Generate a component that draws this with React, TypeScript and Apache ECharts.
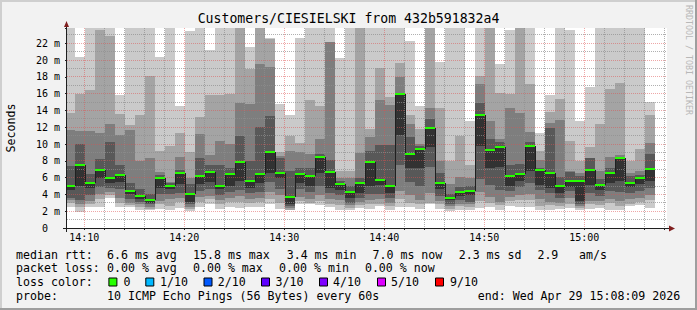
import { useEffect, useRef } from "react";
import * as echarts from "echarts";

const FONT = "'DejaVu Sans Mono', 'Liberation Mono', monospace";

// ---- time axis (clock times) ----
const GRAPH_START = "14:08:16";
const GRAPH_END = "15:08:16";
const FIRST_STEP_END = "14:09:04";
const STEP_MINUTES = 1;

const xTickLabels = ["14:10", "14:20", "14:30", "14:40", "14:50", "15:00"];
const yTickLabels = ["0", "2 m", "4 m", "6 m", "8 m", "10 m", "12 m", "14 m", "16 m", "18 m", "20 m", "22 m"];
const Y_MAX = 23.82; // ms

// ---- per-step sorted ping RTTs (ms), ping1 = fastest ... ping10 = slowest ----
const ping10 = [27.4, 20.4, 28.1, 26.9, 31.2, 15.8, 29.5, 26.2, 27.7, 20.4, 33.1, 14.5, 23.5, 28.8, 21.2, 26.6, 30.4, 27.9, 21.5, 32.6, 22.6, 14.8, 13.5, 22.6, 29.1, 26.3, 31.8, 20.3, 28.4, 27.2, 30.9, 25.7, 26.8, 34.5, 22.3, 14.5, 29.7, 19.8, 27.3, 25.9, 12.7, 31.4, 28.6, 19.5, 23.6, 30.2, 27.1, 11.3, 15.8, 26.4, 23.6, 12.7, 16.8, 28.3, 25.4, 29.9, 26.1, 27.6, 15.0];
const ping9 = [13.7, 16.0, 16.4, 23.6, 22.9, 13.6, 12.3, 13.5, 18.1, 9.2, 9.8, 11.35, 9.0, 13.2, 15.8, 15.8, 16.0, 25.5, 18.9, 24.6, 22.5, 9.1, 11.0, 10.1, 15.2, 14.5, 22.2, 6.8, 6.8, 25.1, 11.8, 19.1, 15.6, 19.7, 13.5, 11.8, 24.8, 14.3, 8.0, 11.0, 7.5, 18.1, 25.3, 16.1, 16.0, 24.9, 17.2, 9.2, 13.8, 15.4, 10.4, 8.0, 9.6, 12.4, 16.55, 17.3, 8.0, 9.4, 13.4];
const ping8 = [11.7, 11.55, 11.55, 11.35, 12.4, 11.1, 11.7, 8.0, 8.3, 6.7, 5.5, 8.5, 6.0, 11.2, 8.7, 10.4, 10.0, 14.9, 14.8, 19.5, 19.2, 8.6, 9.2, 9.1, 8.8, 10.6, 22.1, 6.0, 6.0, 8.9, 10.8, 15.2, 14.6, 18.0, 12.4, 10.0, 14.3, 8.0, 5.2, 6.1, 6.0, 17.2, 12.7, 10.6, 14.3, 13.7, 11.4, 8.1, 12.5, 12.9, 6.8, 6.5, 8.2, 6.8, 8.4, 8.7, 6.5, 6.8, 10.1];
const ping7 = [7.4, 10.0, 6.4, 8.2, 10.2, 7.5, 5.3, 4.6, 4.1, 6.3, 5.4, 6.9, 5.2, 8.3, 7.5, 7.5, 7.1, 11.0, 8.0, 12.0, 13.3, 8.3, 6.8, 7.1, 7.2, 8.8, 8.1, 5.6, 5.0, 6.0, 9.2, 9.9, 9.9, 16.0, 10.8, 9.8, 13.0, 6.6, 4.1, 4.9, 5.0, 14.9, 10.6, 10.2, 7.5, 7.6, 10.3, 7.1, 11.9, 6.1, 6.7, 6.2, 8.3, 5.8, 7.2, 8.5, 6.2, 6.3, 8.8];
const ping6 = [5.0, 7.5, 5.3, 6.9, 5.9, 6.3, 4.4, 3.8, 3.35, 6.0, 5.0, 6.5, 4.05, 6.2, 6.7, 5.05, 6.4, 7.9, 5.6, 6.4, 9.1, 6.55, 3.75, 6.45, 6.25, 8.4, 6.7, 5.2, 4.25, 5.3, 7.85, 5.75, 5.05, 15.9, 8.85, 9.35, 11.95, 5.3, 3.6, 4.25, 4.4, 13.4, 9.3, 9.6, 6.15, 6.45, 9.8, 6.95, 6.6, 5.0, 5.65, 5.65, 6.85, 5.15, 6.6, 8.3, 5.4, 5.9, 7.05];
const ping5 = [4.5, 5.0, 4.8, 5.9, 5.4, 5.5, 4.0, 3.5, 3.0, 4.8, 4.6, 5.2, 3.1, 5.2, 5.5, 4.6, 5.0, 5.6, 4.8, 5.3, 6.6, 5.9, 2.9, 5.3, 5.0, 6.6, 4.8, 4.5, 3.6, 4.2, 5.0, 5.1, 4.2, 11.1, 7.2, 7.2, 9.6, 4.6, 3.3, 3.8, 3.9, 9.8, 7.2, 7.3, 5.0, 5.6, 6.8, 5.1, 4.8, 4.2, 4.9, 3.2, 5.1, 4.5, 5.4, 5.6, 4.9, 5.2, 5.6];
const ping4 = [3.6, 3.3, 3.9, 4.9, 4.8, 4.6, 3.4, 3.1, 2.8, 4.0, 4.0, 4.2, 2.8, 4.4, 4.6, 3.9, 4.3, 4.5, 4.2, 4.3, 5.5, 4.7, 2.6, 4.6, 4.3, 5.0, 4.2, 3.9, 3.0, 3.6, 4.0, 4.1, 3.6, 7.5, 5.5, 5.0, 7.3, 3.8, 2.9, 3.3, 3.1, 5.8, 5.1, 4.5, 4.4, 4.9, 5.3, 4.5, 4.2, 3.6, 4.4, 2.8, 4.2, 3.8, 4.4, 4.3, 4.2, 4.4, 4.8];
const ping3 = [3.3, 2.8, 3.2, 4.1, 4.3, 3.6, 3.0, 2.8, 2.5, 3.2, 3.4, 3.6, 2.5, 3.7, 3.8, 3.3, 3.6, 3.8, 3.5, 3.6, 4.3, 3.9, 2.4, 3.7, 3.4, 3.9, 3.5, 3.3, 2.7, 3.1, 3.3, 3.4, 3.0, 4.4, 3.9, 3.3, 4.2, 3.2, 2.6, 2.9, 2.8, 4.3, 3.7, 3.1, 3.7, 3.9, 4.0, 3.4, 3.1, 3.0, 3.6, 2.6, 3.2, 3.2, 3.5, 3.2, 3.4, 3.6, 3.9];
const ping2 = [3.0, 2.5, 2.9, 3.5, 3.9, 3.0, 2.7, 2.5, 2.3, 2.8, 2.6, 3.1, 2.3, 3.1, 3.4, 2.8, 3.1, 3.1, 3.0, 3.1, 3.5, 3.0, 2.2, 3.2, 3.0, 3.2, 2.9, 2.7, 2.4, 2.7, 2.8, 2.9, 2.6, 3.4, 3.0, 2.8, 3.0, 2.8, 2.3, 2.6, 2.5, 3.2, 3.0, 2.7, 3.2, 3.3, 3.3, 2.6, 2.7, 2.6, 2.9, 2.4, 2.8, 2.7, 3.0, 2.6, 2.8, 3.1, 3.3];
const ping1 = [2.5, 1.95, 2.45, 2.5, 3.6, 2.5, 2.5, 2.1, 2.1, 2.3, 2.1, 2.4, 2.0, 2.5, 2.9, 2.3, 2.5, 2.4, 2.5, 2.5, 2.8, 2.3, 2.1, 2.8, 2.9, 2.7, 2.5, 2.2, 2.1, 2.4, 2.3, 2.6, 2.2, 2.5, 2.5, 2.3, 2.8, 2.3, 2.0, 2.1, 2.2, 2.4, 2.5, 2.1, 2.6, 2.5, 2.5, 2.2, 2.2, 2.3, 2.4, 2.1, 2.3, 2.4, 2.2, 2.1, 2.6, 2.7, 2.4];
// median rtt (ms) per step
const median = ping6;

// ---- legend texts ----
const TITLE = "Customers/CIESIELSKI from 432b591832a4";
const rttStats = ["6.6 ms avg", "15.8 ms max", "3.4 ms min", "7.0 ms now", "2.3 ms sd", "2.9", "am/s"];
const lossStats = ["0.00 % avg", "0.00 % max", "0.00 % min", "0.00 % now"];
const lossLabels = ["0", "1/10", "2/10", "3/10", "4/10", "5/10", "9/10"];
const lossColors = ["#26ff00", "#00b8ff", "#0059ff", "#5e00ff", "#7e00ff", "#dd00ff", "#ff0000"];
const PROBE = "10 ICMP Echo Pings (56 Bytes) every 60s";
const END_TEXT = "end: Wed Apr 29 15:08:09 2026";

const SHADES = ["#cacaca", "#a4a4a4", "#7e7e7e", "#585858", "#323232"];

const toMin = (s: string) => {
  const [h, m, sec] = s.split(":").map(Number);
  return (h - 14) * 60 + m + (sec || 0) / 60;
};

export default function App() {
  const ref = useRef<HTMLDivElement>(null);
  useEffect(() => {
    if (!ref.current) return;
    const chart = echarts.init(ref.current, null, { renderer: "svg" });
    const X_MIN = toMin(GRAPH_START);
    const X_MAX = toMin(GRAPH_END);
    const firstEnd = toMin(FIRST_STEP_END);
    const pings = [ping1, ping2, ping3, ping4, ping5, ping6, ping7, ping8, ping9, ping10];
    const steps = median.map((m, k) => {
      const t1 = firstEnd + k * STEP_MINUTES;
      return [t1 - STEP_MINUTES, t1, ...pings.map((p) => p[k]), m, k > 0 ? median[k - 1] : -1];
    });
    const xTickValues = xTickLabels.map((l) => toMin(l));
    const gridData: number[][] = [];
    for (let t = 10; t <= X_MAX; t += 2) gridData.push([0, t, t % 10 === 0 ? 1 : 0]);
    for (let v = 1; v < Y_MAX; v += 1) gridData.push([1, v, v % 2 === 0 ? 1 : 0]);

    const clampY = (v: number) => Math.min(Math.max(v, 0), Y_MAX);

    const txt = (text: string, x: number, y: number, extra: any = {}) => ({
      type: "text",
      x,
      y,
      silent: true,
      style: {
        text,
        fill: "#000",
        font: `11.6px ${FONT}`,
        fontFamily: FONT,
        fontSize: 11.6,
        align: "left",
        verticalAlign: "middle",
        textAlign: "left",
        textVerticalAlign: "middle",
        ...extra,
      },
    });

    const rttX = [107, 193, 286.7, 372.5, 458.7, 537.4, 579.1];
    const lossX = [107, 193, 279.1, 364.9];
    const boxX = [108.4, 145.3, 203.5, 261, 319, 377, 435];
    const boxLabelX = [123.5, 160, 217.8, 275.6, 333, 391, 450];
    const graphics: any[] = [
      { type: "rect", shape: { x: 0, y: 0, width: 697, height: 2 }, style: { fill: "#cfcfcf" }, silent: true },
      { type: "rect", shape: { x: 0, y: 0, width: 2, height: 310 }, style: { fill: "#cfcfcf" }, silent: true },
      { type: "rect", shape: { x: 0, y: 308, width: 697, height: 2 }, style: { fill: "#9e9e9e" }, silent: true },
      { type: "rect", shape: { x: 695, y: 0, width: 2, height: 310 }, style: { fill: "#9e9e9e" }, silent: true },
      txt(TITLE, 348.5, 18.8, { font: `13.2px ${FONT}`, fontSize: 13.2, align: "center", textAlign: "center" }),
      {
        type: "text", x: 11, y: 128, rotation: Math.PI / 2, silent: true,
        style: { text: "Seconds", fill: "#000", font: `11.6px ${FONT}`, fontFamily: FONT, fontSize: 11.6, align: "center", verticalAlign: "middle", textAlign: "center", textVerticalAlign: "middle" },
      },
      {
        type: "text", x: 688.5, y: 5, rotation: -Math.PI / 2, silent: true,
        style: { text: "RRDTOOL / TOBI OETIKER", fill: "#b8b8b8", font: `8.3px ${FONT}`, fontFamily: FONT, fontSize: 8.3, align: "left", verticalAlign: "middle", textAlign: "left", textVerticalAlign: "middle" },
      },
      // axis extensions and arrows
      { type: "line", shape: { x1: 63, y1: 228.5, x2: 671, y2: 228.5 }, style: { stroke: "#1f1f1f", lineWidth: 1 }, silent: true },
      { type: "line", shape: { x1: 66.5, y1: 232, x2: 66.5, y2: 24 }, style: { stroke: "#1f1f1f", lineWidth: 1 }, silent: true },
      { type: "polygon", shape: { points: [[64, 27], [69, 27], [66.5, 21]] }, style: { fill: "#801f1f" }, silent: true },
      { type: "polygon", shape: { points: [[669, 225.5], [669, 231.5], [675, 228.5]] }, style: { fill: "#801f1f" }, silent: true },
      txt("median rtt:", 16, 254.7),
      ...rttStats.map((s, i) => txt(s, rttX[i], 254.7)),
      txt("packet loss:", 16, 268.3),
      ...lossStats.map((s, i) => txt(s, lossX[i], 268.3)),
      txt("loss color:", 16, 282.3),
      ...lossLabels.flatMap((s, i) => [
        { type: "rect", shape: { x: boxX[i] + 0.5, y: 278, width: 8, height: 8 }, style: { fill: lossColors[i], stroke: "#000", lineWidth: 1 }, silent: true },
        txt(s, boxLabelX[i], 282.3),
      ]),
      txt("probe:", 16, 296),
      txt(PROBE, 107, 296),
      txt(END_TEXT, 477.8, 296),
    ];

    chart.setOption({
      animation: false,
      backgroundColor: "#f2f2f2",
      grid: { left: 67, top: 28, width: 600, height: 200, show: true, backgroundColor: "#ffffff", borderWidth: 0 },
      xAxis: {
        type: "value",
        min: X_MIN,
        max: X_MAX,
        splitLine: { show: false },
        axisLine: { show: false },
        axisTick: { show: true, customValues: gridData.filter((g) => g[0] === 0).map((g) => g[1]), length: 2, lineStyle: { color: "#1f1f1f" } },
        axisLabel: {
          customValues: xTickValues,
          formatter: (v: number) => {
            const i = xTickValues.findIndex((t) => Math.abs(t - v) < 1e-6);
            return i >= 0 ? xTickLabels[i] : "";
          },
          fontFamily: FONT,
          fontSize: 10,
          color: "#000",
          margin: 4,
        },
      },
      yAxis: {
        type: "value",
        min: 0,
        max: Y_MAX,
        interval: 2,
        splitLine: { show: false },
        axisLine: { show: false },
        axisTick: { show: true, length: 2, lineStyle: { color: "#1f1f1f" } },
        axisLabel: {
          fontFamily: FONT,
          fontSize: 10,
          color: "#000",
          margin: 7,
          showMaxLabel: true,
          formatter: (v: number) => {
            const i = Math.round(v / 2);
            if (Math.abs(v - i * 2) > 1e-6 || i >= yTickLabels.length) return "";
            return i === 0 ? `{z|${yTickLabels[0]}}` : yTickLabels[i];
          },
          rich: { z: { fontFamily: FONT, fontSize: 10, color: "#000", padding: [0, 12, 0, 0] } },
        },
      },
      graphic: { elements: graphics },
      series: [
        {
          type: "custom",
          name: "smoke",
          clip: true,
          z: 2,
          data: steps,
          renderItem: (params: any, api: any) => {
            const t0 = Math.max(api.value(0), X_MIN);
            const t1 = Math.min(api.value(1), X_MAX);
            const x0 = Math.round(api.coord([t0, 0])[0]);
            const x1 = Math.round(api.coord([t1, 0])[0]);
            const py = (v: number) => Math.round(api.coord([X_MIN, clampY(v)])[1]);
            const p: number[] = [];
            for (let i = 0; i < 10; i++) p.push(api.value(2 + i));
            const children: any[] = [];
            for (let i = 0; i < 5; i++) {
              const yTop = py(p[9 - i]);
              const yBot = py(p[i]);
              children.push({ type: "rect", shape: { x: x0, y: yTop, width: x1 - x0, height: yBot - yTop }, style: { fill: SHADES[i] } });
            }
            return { type: "group", children };
          },
        },
        {
          type: "custom",
          name: "grid",
          clip: true,
          z: 3,
          silent: true,
          data: gridData,
          renderItem: (params: any, api: any) => {
            const cs = params.coordSys;
            const kind = api.value(0);
            const v = api.value(1);
            const major = api.value(2) === 1;
            const stroke = major ? "rgba(222,79,79,0.5)" : "rgba(143,143,143,0.7)";
            let shape;
            if (kind === 0) {
              const x = Math.floor(api.coord([v, 0])[0]) + 0.5;
              shape = { x1: x, y1: cs.y, x2: x, y2: cs.y + cs.height };
            } else {
              const y = Math.floor(api.coord([X_MIN, v])[1]) + 0.5;
              shape = { x1: cs.x, y1: y, x2: cs.x + cs.width, y2: y };
            }
            return { type: "line", shape, style: { stroke, lineWidth: 1, lineDash: [1, 1] } };
          },
        },
        {
          type: "custom",
          name: "median",
          clip: true,
          z: 4,
          data: steps,
          renderItem: (params: any, api: any) => {
            const t0 = Math.max(api.value(0), X_MIN);
            const t1 = Math.min(api.value(1), X_MAX);
            const x0 = Math.round(api.coord([t0, 0])[0]);
            const x1 = Math.round(api.coord([t1, 0])[0]);
            const med = api.value(12);
            const prev = api.value(13);
            const ym = Math.round(api.coord([X_MIN, clampY(med)])[1]);
            const children: any[] = [];
            if (prev > 0) {
              const yp = Math.round(api.coord([X_MIN, clampY(prev)])[1]);
              children.push({ type: "line", shape: { x1: x0 + 0.5, y1: yp, x2: x0 + 0.5, y2: ym }, style: { stroke: "#202020", lineWidth: 1 } });
            }
            children.push({ type: "rect", shape: { x: x0, y: ym - 1, width: x1 - x0, height: 2 }, style: { fill: lossColors[0] } });
            return { type: "group", children };
          },
        },
      ],
    });
    return () => chart.dispose();
  }, []);
  return <div ref={ref} style={{ position: "absolute", left: 0, top: 0, width: 697, height: 310 }} />;
}
